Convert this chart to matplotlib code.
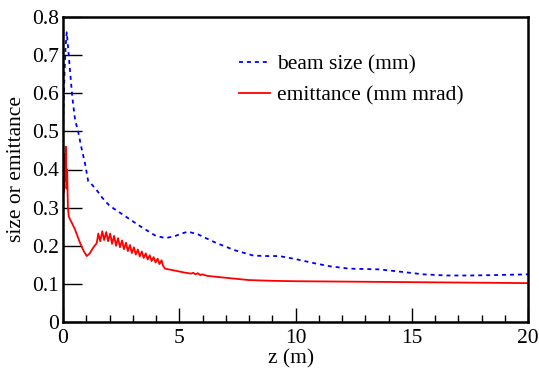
import matplotlib
matplotlib.use('Agg')
from matplotlib import pyplot as plt
from matplotlib.ticker import MultipleLocator, FixedLocator

# beam size (mm) along z (m)
z_size = [0.0, 0.03, 0.07, 0.11, 0.16, 0.22, 0.30, 0.40, 0.52, 0.65, 0.80, 0.95, 1.08,
          1.25, 1.46, 1.70, 2.00, 2.54, 3.30, 3.96, 4.40, 4.80, 5.10, 5.38, 5.80,
          6.60, 7.40, 8.20, 8.80, 9.30, 10.00, 10.90, 11.50, 12.30, 13.60, 14.50,
          15.50, 16.50, 17.50, 18.50, 20.00]
beam_size = [0.50, 0.58, 0.66, 0.72, 0.76, 0.72, 0.66, 0.59, 0.53, 0.50, 0.455, 0.415, 0.37,
             0.36, 0.345, 0.325, 0.305, 0.283, 0.252, 0.227, 0.220, 0.225, 0.232, 0.237, 0.230,
             0.207, 0.188, 0.174, 0.173, 0.173, 0.165, 0.153, 0.146, 0.140, 0.138, 0.132,
             0.125, 0.122, 0.122, 0.123, 0.125]

# emittance (mm mrad) along z (m)
z_emit = [0.0, 0.03, 0.06, 0.09, 0.12, 0.15, 0.18, 0.21, 0.25, 0.50, 0.75, 0.90, 1.02,
          1.15, 1.30, 1.45,
          1.52, 1.60, 1.69, 1.77, 1.86, 1.94, 2.03, 2.11, 2.20, 2.28, 2.37, 2.45,
          2.54, 2.62, 2.71, 2.79, 2.88, 2.96, 3.05, 3.13, 3.22, 3.30, 3.39, 3.47,
          3.56, 3.64, 3.73, 3.81, 3.90, 3.98, 4.07, 4.15, 4.24, 4.30, 4.38,
          4.80, 5.20, 5.50, 5.60, 5.70, 5.80, 5.90, 6.00, 6.20, 7.00, 8.00, 9.00,
          10.0, 12.0, 14.0, 16.0, 18.0, 20.0]
emittance = [0.43, 0.34, 0.44, 0.37, 0.46, 0.35, 0.40, 0.30, 0.276, 0.245, 0.205, 0.185, 0.173,
             0.180, 0.195, 0.207,
             0.232, 0.212, 0.238, 0.215, 0.236, 0.212, 0.232, 0.205, 0.226, 0.200, 0.220, 0.196,
             0.214, 0.191, 0.208, 0.186, 0.202, 0.181, 0.196, 0.177, 0.190, 0.172, 0.185, 0.168,
             0.180, 0.164, 0.175, 0.160, 0.170, 0.156, 0.166, 0.152, 0.162, 0.148, 0.140,
             0.135, 0.130, 0.127, 0.129, 0.125, 0.128, 0.123, 0.125, 0.121, 0.116, 0.110, 0.108,
             0.107, 0.106, 0.105, 0.104, 0.103, 0.102]

y_ticks = [0, 0.1, 0.2, 0.3, 0.4, 0.5, 0.6, 0.7, 0.8]
y_labels = ['0', '0.1', '0.2', '0.3', '0.4', '0.5', '0.6', '0.7', '0.8']
x_ticks = [0, 5, 10, 15, 20]
x_labels = ['0', '5', '10', '15', '20']

plt.rcParams['font.family'] = ['Liberation Serif', 'DejaVu Serif']
fs = 15.5

fig = plt.figure(figsize=(5.39, 3.68), dpi=100)
ax = fig.add_axes([63 / 539, 46 / 368, 465 / 539, 305 / 368])

ax.plot(z_size, beam_size, color='#0000ff', lw=1.3, ls=(0, (2.2, 2.2)), label='beam size (mm)')
ax.plot(z_emit, emittance, color='#ff0000', lw=1.3, label='emittance (mm mrad)')

ax.set_xlim(0, 20)
ax.set_ylim(0, 0.8)
ax.xaxis.set_major_locator(FixedLocator(x_ticks))
ax.set_xticklabels(x_labels)
ax.xaxis.set_minor_locator(MultipleLocator(1))
ax.yaxis.set_major_locator(FixedLocator(y_ticks))
ax.set_yticklabels(y_labels)

ax.tick_params(axis='both', which='both', direction='in', top=False, right=False,
               labelsize=fs, width=1.0, color='black')
ax.tick_params(axis='y', which='major', length=14, pad=3)
ax.tick_params(axis='x', which='major', length=10, pad=5)
ax.tick_params(axis='x', which='minor', length=5)

for s in ax.spines.values():
    s.set_linewidth(1.8)

# axis titles placed by hand, as in the original
ax.set_xlabel('z (m)', fontsize=fs, va='center')
ax.xaxis.set_label_coords(0.49, -37 / 305)
ax.set_ylabel('size or emittance', fontsize=fs, va='center')
ax.yaxis.set_label_coords(-46 / 465, 0.5)

ax.legend(loc='upper left', bbox_to_anchor=(239 / 539, 1 - 54 / 368), bbox_transform=fig.transFigure,
          frameon=False, fontsize=fs, handlelength=1.45, handletextpad=0.33, labelspacing=0.52,
          borderpad=0, borderaxespad=0)

plt.savefig('out.png', dpi=100)
